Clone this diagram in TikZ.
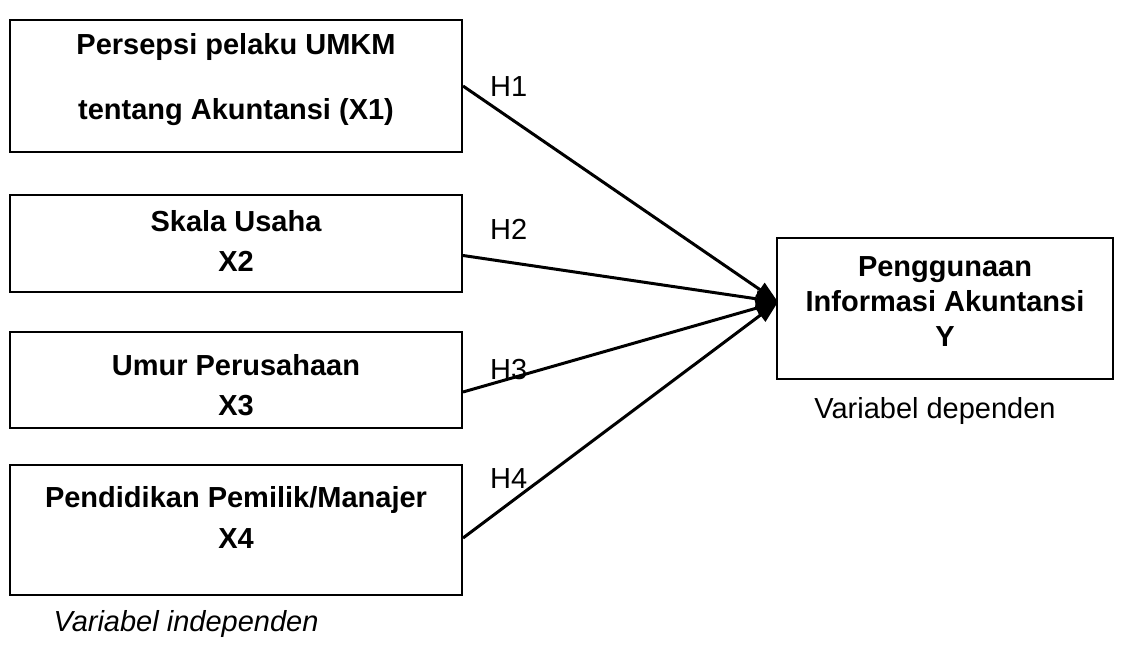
\documentclass[tikz,border=0pt]{standalone}
\usepackage{fontspec}
\setmainfont{Liberation Sans}
\usetikzlibrary{arrows.meta}
\begin{document}
\begin{tikzpicture}[x=1pt,y=-1pt,
  box/.style={draw,line width=2pt,rectangle,inner sep=0pt},
  btxt/.style={font=\fontsize{29}{34}\selectfont\bfseries,anchor=base,inner sep=0pt},
  rtxt/.style={font=\fontsize{29}{34}\selectfont,anchor=base,inner sep=0pt},
  hyp/.style={font=\fontsize{29}{34}\selectfont,anchor=base west,inner sep=0pt},
  conn/.style={line width=3pt,-{Triangle[length=22pt,width=16pt]}}]
\useasboundingbox (0,0) rectangle (1125,660);
% boxes
\node[box,minimum width=452pt,minimum height=132pt] (b1) at (236,86) {};
\node[box,minimum width=452pt,minimum height=97pt] (b2) at (236,243.5) {};
\node[box,minimum width=452pt,minimum height=96pt] (b3) at (236,380) {};
\node[box,minimum width=452pt,minimum height=130pt] (b4) at (236,530) {};
\node[box,minimum width=336pt,minimum height=141pt] (by) at (945,308.5) {};
% texts
\node[btxt] (t1a) at (236,55) {Persepsi pelaku UMKM};
\node[btxt] (t1b) at (236,120) {tentang Akuntansi (X1)};
\node[btxt] (t2a) at (236,232) {Skala Usaha};
\node[btxt] (t2b) at (236,272) {X2};
\node[btxt] (t3a) at (236,375) {Umur Perusahaan};
\node[btxt] (t3b) at (236,415) {X3};
\node[btxt] (t4a) at (236,507) {Pendidikan Pemilik/Manajer};
\node[btxt] (t4b) at (236,548) {X4};
\node[btxt] (tya) at (945,277) {Penggunaan};
\node[btxt] (tyb) at (945,312) {Informasi Akuntansi};
\node[btxt] (tyc) at (945,347) {Y};
\node[rtxt] (dep) at (935,418) {Variabel dependen};
\node[rtxt,font=\fontsize{29}{34}\selectfont\itshape] (indep) at (186,631) {Variabel independen};
% hypotheses labels
\node[hyp] (h1) at (490,97) {H1};
\node[hyp] (h2) at (490,240) {H2};
\node[hyp] (h3) at (490,380) {H3};
\node[hyp] (h4) at (490,488) {H4};
% connectors
\coordinate (tip) at (778,302);
\draw[conn] (b1.east) -- (tip);
\draw[conn] ([yshift=-12pt]b2.east) -- (tip);
\draw[conn] ([yshift=-12pt]b3.east) -- (tip);
\draw[conn] ([yshift=-8pt]b4.east) -- (tip);
\end{tikzpicture}
\end{document}
